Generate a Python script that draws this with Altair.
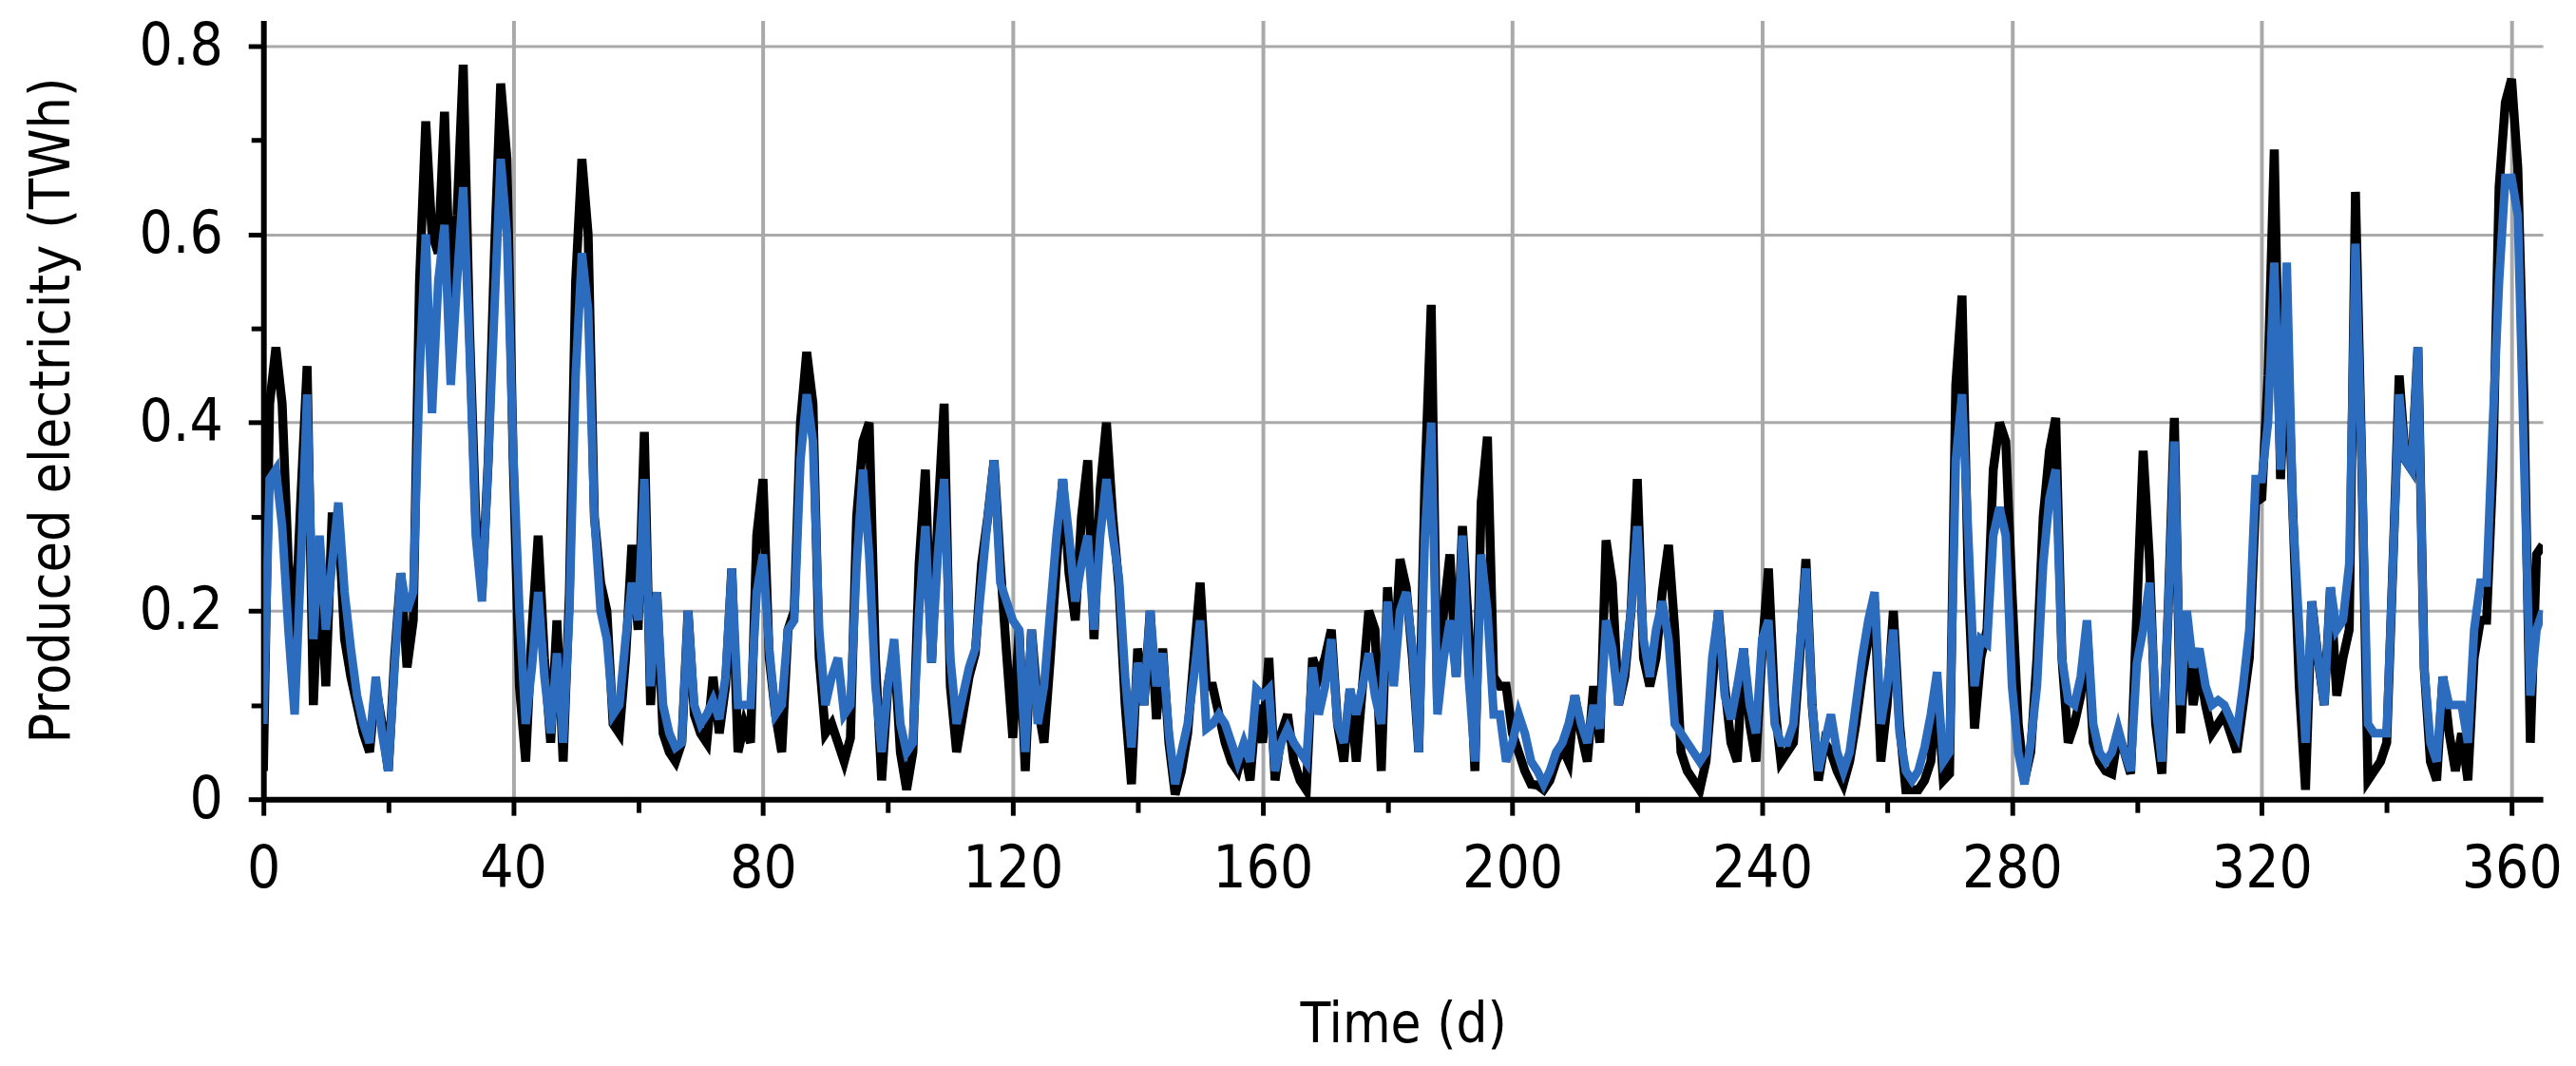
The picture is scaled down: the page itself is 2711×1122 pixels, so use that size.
import altair as alt
import pandas as pd

# Daily produced electricity (TWh), day 0..365
black_000_040 = [0.03, 0.42, 0.48, 0.42, 0.25, 0.17, 0.32, 0.46, 0.10, 0.26,
                 0.12, 0.30, 0.30, 0.17, 0.13, 0.10, 0.07, 0.05, 0.12, 0.08,
                 0.03, 0.15, 0.24, 0.14, 0.19, 0.55, 0.72, 0.60, 0.58, 0.73,
                 0.52, 0.62, 0.78, 0.50, 0.30, 0.22, 0.36, 0.58, 0.76, 0.68,
                 0.36]
black_041_080 = [0.12, 0.04, 0.18, 0.28, 0.15, 0.06, 0.19, 0.04, 0.22, 0.55,
                 0.68, 0.60, 0.30, 0.23, 0.20, 0.08, 0.07, 0.15, 0.27, 0.18,
                 0.39, 0.10, 0.22, 0.07, 0.05, 0.04, 0.06, 0.20, 0.09, 0.07,
                 0.06, 0.13, 0.07, 0.12, 0.245, 0.05, 0.08, 0.06, 0.28, 0.34]
black_081_120 = [0.15, 0.09, 0.05, 0.18, 0.20, 0.40, 0.475, 0.42, 0.15, 0.07,
                 0.08, 0.06, 0.04, 0.065, 0.30, 0.38, 0.40, 0.15, 0.02, 0.12,
                 0.16, 0.05, 0.01, 0.05, 0.25, 0.35, 0.145, 0.30, 0.42, 0.12,
                 0.05, 0.09, 0.13, 0.155, 0.25, 0.30, 0.36, 0.25, 0.155, 0.065]
black_121_160 = [0.18, 0.03, 0.18, 0.10, 0.06, 0.15, 0.25, 0.34, 0.24, 0.19,
                 0.30, 0.36, 0.17, 0.33, 0.40, 0.30, 0.225, 0.10, 0.016, 0.16,
                 0.10, 0.20, 0.085, 0.16, 0.06, 0.005, 0.03, 0.07, 0.15, 0.23,
                 0.12, 0.12, 0.09, 0.06, 0.04, 0.03, 0.055, 0.02, 0.10, 0.06]
black_161_200 = [0.15, 0.02, 0.07, 0.09, 0.04, 0.02, 0.01, 0.15, 0.13, 0.15,
                 0.18, 0.08, 0.04, 0.117, 0.04, 0.12, 0.20, 0.18, 0.03, 0.225,
                 0.13, 0.255, 0.225, 0.15, 0.05, 0.34, 0.525, 0.10, 0.20, 0.26,
                 0.13, 0.29, 0.18, 0.03, 0.315, 0.385, 0.13, 0.12, 0.12, 0.07]
black_201_240 = [0.05, 0.03, 0.016, 0.015, 0.01, 0.02, 0.04, 0.055, 0.04, 0.11,
                 0.07, 0.04, 0.12, 0.06, 0.275, 0.23, 0.10, 0.13, 0.20, 0.34,
                 0.15, 0.12, 0.15, 0.22, 0.27, 0.18, 0.05, 0.03, 0.02, 0.01,
                 0.04, 0.12, 0.20, 0.12, 0.06, 0.04, 0.16, 0.08, 0.04, 0.16]
black_241_280 = [0.245, 0.10, 0.04, 0.05, 0.06, 0.15, 0.255, 0.10, 0.02, 0.06,
                 0.05, 0.03, 0.016, 0.04, 0.08, 0.13, 0.17, 0.21, 0.04, 0.10,
                 0.20, 0.08, 0.01, 0.01, 0.01, 0.02, 0.04, 0.12, 0.02, 0.027,
                 0.44, 0.535, 0.23, 0.075, 0.15, 0.18, 0.35, 0.40, 0.38, 0.22]
black_281_320 = [0.08, 0.02, 0.05, 0.15, 0.30, 0.37, 0.405, 0.15, 0.06, 0.08,
                 0.11, 0.18, 0.06, 0.04, 0.03, 0.027, 0.07, 0.05, 0.027, 0.20,
                 0.37, 0.255, 0.08, 0.027, 0.20, 0.405, 0.07, 0.19, 0.10, 0.14,
                 0.10, 0.07, 0.08, 0.09, 0.07, 0.05, 0.10, 0.15, 0.315, 0.32]
black_321_365 = [0.45, 0.69, 0.34, 0.50, 0.30, 0.12, 0.01, 0.21, 0.15, 0.10,
                 0.225, 0.11, 0.15, 0.18, 0.645, 0.36, 0.02, 0.03, 0.04, 0.06,
                 0.25, 0.45, 0.36, 0.35, 0.48, 0.14, 0.04, 0.02, 0.13, 0.07,
                 0.03, 0.07, 0.02, 0.15, 0.19, 0.19, 0.35, 0.65, 0.74, 0.765,
                 0.67, 0.42, 0.06, 0.26, 0.27]

blue_000_040 = [0.08, 0.34, 0.35, 0.29, 0.18, 0.09, 0.25, 0.43, 0.17, 0.28,
                0.18, 0.25, 0.315, 0.22, 0.16, 0.11, 0.08, 0.06, 0.13, 0.07,
                0.03, 0.14, 0.24, 0.20, 0.22, 0.45, 0.60, 0.41, 0.55, 0.61,
                0.44, 0.55, 0.65, 0.48, 0.28, 0.21, 0.36, 0.52, 0.68, 0.60,
                0.37]
blue_041_080 = [0.20, 0.08, 0.14, 0.22, 0.13, 0.07, 0.155, 0.06, 0.20, 0.45,
                0.58, 0.52, 0.30, 0.20, 0.17, 0.09, 0.10, 0.17, 0.23, 0.19,
                0.34, 0.12, 0.22, 0.10, 0.07, 0.055, 0.06, 0.20, 0.10, 0.08,
                0.09, 0.105, 0.085, 0.13, 0.245, 0.10, 0.10, 0.10, 0.22, 0.26]
blue_081_120 = [0.16, 0.09, 0.10, 0.18, 0.19, 0.36, 0.43, 0.38, 0.18, 0.10,
                0.13, 0.15, 0.09, 0.10, 0.25, 0.35, 0.26, 0.12, 0.05, 0.12,
                0.17, 0.08, 0.05, 0.06, 0.20, 0.29, 0.145, 0.26, 0.34, 0.15,
                0.08, 0.11, 0.14, 0.16, 0.23, 0.30, 0.36, 0.23, 0.21, 0.19]
blue_121_160 = [0.18, 0.05, 0.18, 0.08, 0.12, 0.20, 0.28, 0.34, 0.28, 0.21,
                0.25, 0.28, 0.18, 0.28, 0.34, 0.28, 0.235, 0.13, 0.055, 0.145,
                0.10, 0.20, 0.12, 0.155, 0.07, 0.016, 0.05, 0.08, 0.13, 0.19,
                0.075, 0.08, 0.09, 0.08, 0.06, 0.04, 0.06, 0.04, 0.117, 0.11]
blue_161_200 = [0.117, 0.03, 0.06, 0.075, 0.06, 0.05, 0.04, 0.14, 0.09, 0.12,
                0.17, 0.08, 0.06, 0.117, 0.09, 0.12, 0.155, 0.11, 0.08, 0.21,
                0.12, 0.20, 0.22, 0.16, 0.05, 0.28, 0.40, 0.09, 0.15, 0.19,
                0.13, 0.28, 0.13, 0.04, 0.26, 0.20, 0.09, 0.09, 0.04, 0.06]
blue_201_240 = [0.09, 0.07, 0.04, 0.03, 0.016, 0.03, 0.05, 0.06, 0.08, 0.11,
                0.08, 0.06, 0.10, 0.075, 0.19, 0.16, 0.10, 0.14, 0.20, 0.29,
                0.17, 0.13, 0.18, 0.21, 0.17, 0.08, 0.07, 0.06, 0.05, 0.04,
                0.05, 0.15, 0.20, 0.11, 0.085, 0.12, 0.16, 0.10, 0.07, 0.17]
blue_241_280 = [0.19, 0.08, 0.06, 0.06, 0.08, 0.16, 0.245, 0.10, 0.03, 0.06,
                0.09, 0.05, 0.03, 0.05, 0.10, 0.15, 0.19, 0.22, 0.08, 0.12,
                0.18, 0.07, 0.03, 0.02, 0.03, 0.055, 0.09, 0.135, 0.04, 0.05,
                0.36, 0.43, 0.28, 0.12, 0.17, 0.165, 0.28, 0.31, 0.28, 0.12]
blue_281_320 = [0.05, 0.016, 0.06, 0.12, 0.25, 0.32, 0.35, 0.15, 0.105, 0.10,
                0.13, 0.19, 0.08, 0.05, 0.04, 0.05, 0.075, 0.05, 0.03, 0.145,
                0.18, 0.23, 0.10, 0.04, 0.20, 0.38, 0.10, 0.20, 0.14, 0.16,
                0.12, 0.10, 0.105, 0.10, 0.085, 0.07, 0.12, 0.18, 0.34, 0.34]
blue_321_365 = [0.40, 0.57, 0.35, 0.57, 0.30, 0.18, 0.06, 0.21, 0.15, 0.10,
                0.225, 0.18, 0.19, 0.25, 0.59, 0.36, 0.08, 0.07, 0.07, 0.07,
                0.25, 0.43, 0.36, 0.35, 0.48, 0.14, 0.06, 0.04, 0.13, 0.10,
                0.10, 0.10, 0.06, 0.18, 0.23, 0.23, 0.40, 0.55, 0.66, 0.66,
                0.62, 0.36, 0.11, 0.18, 0.20]

x_tick_values = [0, 20, 40, 60, 80, 100, 120, 140, 160, 180, 200,
                 220, 240, 260, 280, 300, 320, 340, 360]
y_tick_values = [0, 0.1, 0.2, 0.3, 0.4, 0.5, 0.6, 0.7, 0.8]

black = (black_000_040 + black_041_080 + black_081_120 + black_121_160 +
         black_161_200 + black_201_240 + black_241_280 + black_281_320 +
         black_321_365)
blue = (blue_000_040 + blue_041_080 + blue_081_120 + blue_121_160 +
        blue_161_200 + blue_201_240 + blue_241_280 + blue_281_320 +
        blue_321_365)
days = list(range(len(black)))

df = pd.DataFrame({"day": days, "black": black, "blue": blue[:len(black)]})

FONT = "Liberation Sans Narrow, DejaVu Sans Condensed, Roboto Condensed, sans-serif"
GRID = "#a9a9a9"

x_axis = alt.Axis(
    values=x_tick_values,
    title="Time (d)",
    labelExpr="datum.value % 40 === 0 ? format(datum.value, 'd') : ''",
    grid=True,
    gridColor=GRID,
    gridWidth=4,
    gridOpacity={"condition": {"test": "datum.value % 40 !== 0 || datum.value === 0", "value": 0}, "value": 1},
    tickSize={"condition": {"test": "datum.value % 40 !== 0", "value": 14}, "value": 17},
    tickWidth=5,
    tickColor="black",
    domainColor="black",
    domainWidth=6,
    labelFont=FONT,
    labelFontSize=62,
    labelColor="black",
    labelPadding=27,
    labelFlush=False,
    titleFont=FONT,
    titleFontSize=58,
    titleFontWeight="normal",
    titleColor="black",
    titleBaseline="alphabetic",
    titleY=256,
)

y_axis = alt.Axis(
    values=y_tick_values,
    title="Produced electricity (TWh)",
    labelExpr="round(datum.value * 10) % 2 === 0 ? (datum.value === 0 ? '0' : format(datum.value, '.1f')) : ''",
    grid=True,
    gridColor=GRID,
    gridWidth=3,
    gridOpacity={"condition": {"test": "round(datum.value * 10) % 2 === 1 || datum.value === 0", "value": 0}, "value": 1},
    tickSize={"condition": {"test": "round(datum.value * 10) % 2 === 1", "value": 13}, "value": 16},
    tickWidth=5,
    tickColor="black",
    domainColor="black",
    domainWidth=6,
    labelFont=FONT,
    labelFontSize=62,
    labelColor="black",
    labelPadding=27,
    labelFlush=False,
    titleFont=FONT,
    titleFontSize=59,
    titleFontWeight="normal",
    titleColor="black",
    titleAngle=270,
    titleBaseline="alphabetic",
    titleX=-205,
    titleY=411,
)

x_enc = alt.X("day:Q", scale=alt.Scale(domain=[0, 365], nice=False, zero=False), axis=x_axis)
y_scale = alt.Scale(domain=[0, 0.827], nice=False)

black_line = alt.Chart(df).mark_line(color="#000000", strokeWidth=9.5, clip=True).encode(
    x=x_enc,
    y=alt.Y("black:Q", scale=y_scale, axis=y_axis),
)
blue_line = alt.Chart(df).mark_line(color="#2b6cbf", strokeWidth=9, clip=True).encode(
    x=alt.X("day:Q", scale=alt.Scale(domain=[0, 365], nice=False, zero=False)),
    y=alt.Y("blue:Q", scale=y_scale),
)

chart = alt.layer(black_line, blue_line).properties(
    width=2406,
    height=822,
    padding={"left": 270, "top": 12, "right": 27, "bottom": 280},
    autosize=alt.AutoSizeParams(type="none"),
    background="white",
).configure_view(stroke=None)

chart.save("out.html", embed_options={"renderer": "svg", "actions": False})
